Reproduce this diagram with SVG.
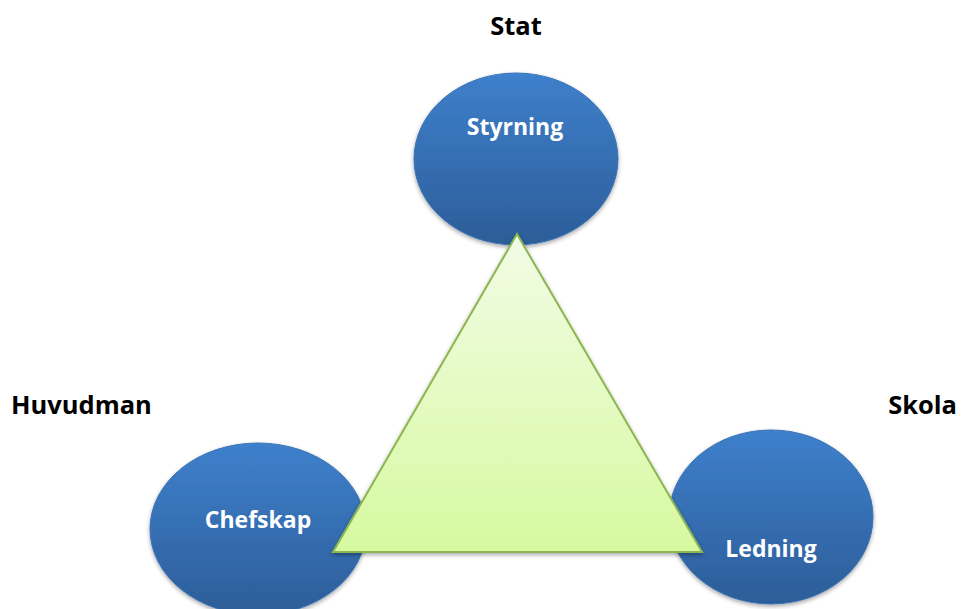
<svg xmlns="http://www.w3.org/2000/svg" width="963" height="609" viewBox="0 0 963 609">
  <defs>
    <linearGradient id="blue" x1="0" y1="0" x2="0" y2="1">
      <stop offset="0" stop-color="#3e80cc"/>
      <stop offset="1" stop-color="#2c5d98"/>
    </linearGradient>
    <linearGradient id="green" x1="0" y1="0" x2="0" y2="1">
      <stop offset="0" stop-color="#f2fce6"/>
      <stop offset="1" stop-color="#d6f9a0"/>
    </linearGradient>
    <filter id="shadow" x="-20%" y="-20%" width="140%" height="140%">
      <feGaussianBlur in="SourceAlpha" stdDeviation="2"/>
      <feOffset dx="0" dy="2" result="b"/>
      <feComponentTransfer><feFuncA type="linear" slope="0.35"/></feComponentTransfer>
      <feMerge><feMergeNode/><feMergeNode in="SourceGraphic"/></feMerge>
    </filter>
  </defs>
  <style>
    .node { fill: url(#blue); stroke: #3a73b5; stroke-width: 1; filter: url(#shadow); }
    .in { font-family: "Open Sans", "Liberation Sans", sans-serif; font-weight: bold; font-size: 23px; fill: #ffffff; text-anchor: middle; }
    .lbl { font-family: "Open Sans", "Liberation Sans", sans-serif; font-weight: bold; font-size: 25.5px; fill: #000000; }
    .tri { fill: url(#green); stroke: #8cb650; stroke-width: 2; stroke-linejoin: miter; filter: url(#shadow); }
  </style>
  <text class="lbl" x="516" y="35" text-anchor="middle">Stat</text>
  <text class="lbl" x="11" y="414">Huvudman</text>
  <text class="lbl" x="957" y="414" text-anchor="end">Skola</text>
  <g id="styrning">
    <ellipse class="node" cx="516" cy="159" rx="102" ry="86"/>
    <text class="in" x="515" y="135">Styrning</text>
  </g>
  <g id="chefskap">
    <ellipse class="node" cx="258" cy="529" rx="108" ry="86"/>
    <text class="in" x="258" y="528">Chefskap</text>
  </g>
  <g id="ledning">
    <ellipse class="node" cx="771" cy="517" rx="102" ry="87"/>
    <text class="in" x="771" y="557">Ledning</text>
  </g>
  <g id="triangel">
    <polygon class="tri" points="517,234 333,552 702,552"/>
  </g>
  <g id="connectors"/>
</svg>
